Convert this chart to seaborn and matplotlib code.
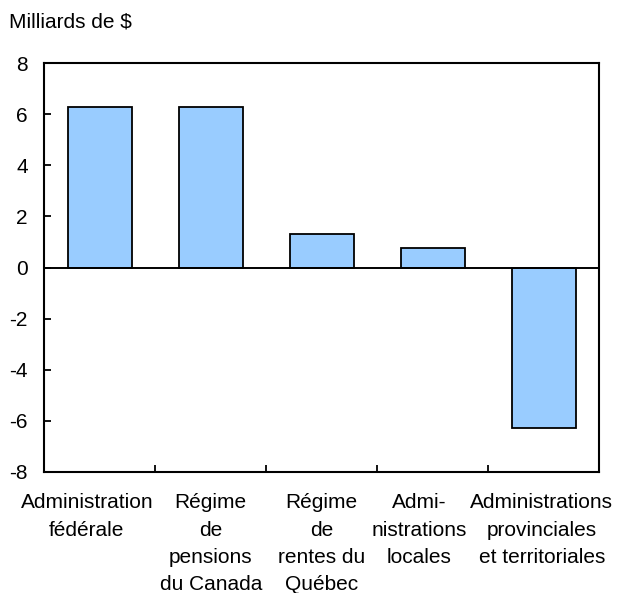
import pandas as pd
import matplotlib.pyplot as plt
import matplotlib.transforms as mtrans
import seaborn as sns

# data
categories = ["Administration\nfédérale",
              "Régime\nde\npensions\ndu Canada",
              "Régime\nde\nrentes du\nQuébec",
              "Admi-\nnistrations\nlocales",
              "Administrations\nprovinciales\net territoriales"]
values = [6.3, 6.3, 1.3, 0.75, -6.3]
y_ticks = [-8, -6, -4, -2, 0, 2, 4, 6, 8]

df = pd.DataFrame({"cat": categories, "val": values})

sns.set_style("ticks")
plt.rcParams['font.family'] = ['Liberation Sans', 'DejaVu Sans']
plt.rcParams['text.color'] = 'black'
plt.rcParams['xtick.color'] = 'black'
plt.rcParams['ytick.color'] = 'black'

fig = plt.figure(figsize=(6.17, 5.93), dpi=100)
ax = fig.add_axes([44.3/617, 1-471.7/593, 555/617, 408.4/593])

sns.barplot(data=df, x="cat", y="val", color="#99CCFF", saturation=1,
            edgecolor="black", linewidth=1.3, width=0.58, ax=ax)

ax.axhline(0, color="black", lw=1.4, zorder=3)
ax.set_xlim(-0.5, len(categories) - 0.5)
ax.set_ylim(-8, 8)
ax.set_yticks(y_ticks)
ax.set_yticklabels([str(t) for t in y_ticks], fontsize=15)
ax.set_xlabel("")
ax.set_ylabel("")

# category labels centred, ticks between categories
ax.tick_params(axis="x", which="major", length=0, pad=15.5, labelsize=15,
               labelcolor="black")
ax.set_xticks([i + 0.5 for i in range(len(categories) - 1)], minor=True)
ax.tick_params(axis="x", which="minor", direction="in", length=5, width=1.3)
# some labels sit a little left of their bar, like in the original
shifts = [-0.13, 0, 0, -0.14, -0.02]
for lab, dx in zip(ax.get_xticklabels(), shifts):
    lab.set_linespacing(1.56)
    lab.set_transform(lab.get_transform() +
                      mtrans.ScaledTranslation(dx, 0, fig.dpi_scale_trans))
ax.tick_params(axis="y", direction="in", length=5, width=1.3, pad=12,
               labelcolor="black")

for s in ax.spines.values():
    s.set_visible(True)
    s.set_linewidth(1.5)
    s.set_color("black")

fig.text(9/617, 1-22/593, "Milliards de $", fontsize=15, va="center", ha="left")

fig.savefig("out.png", dpi=100)
